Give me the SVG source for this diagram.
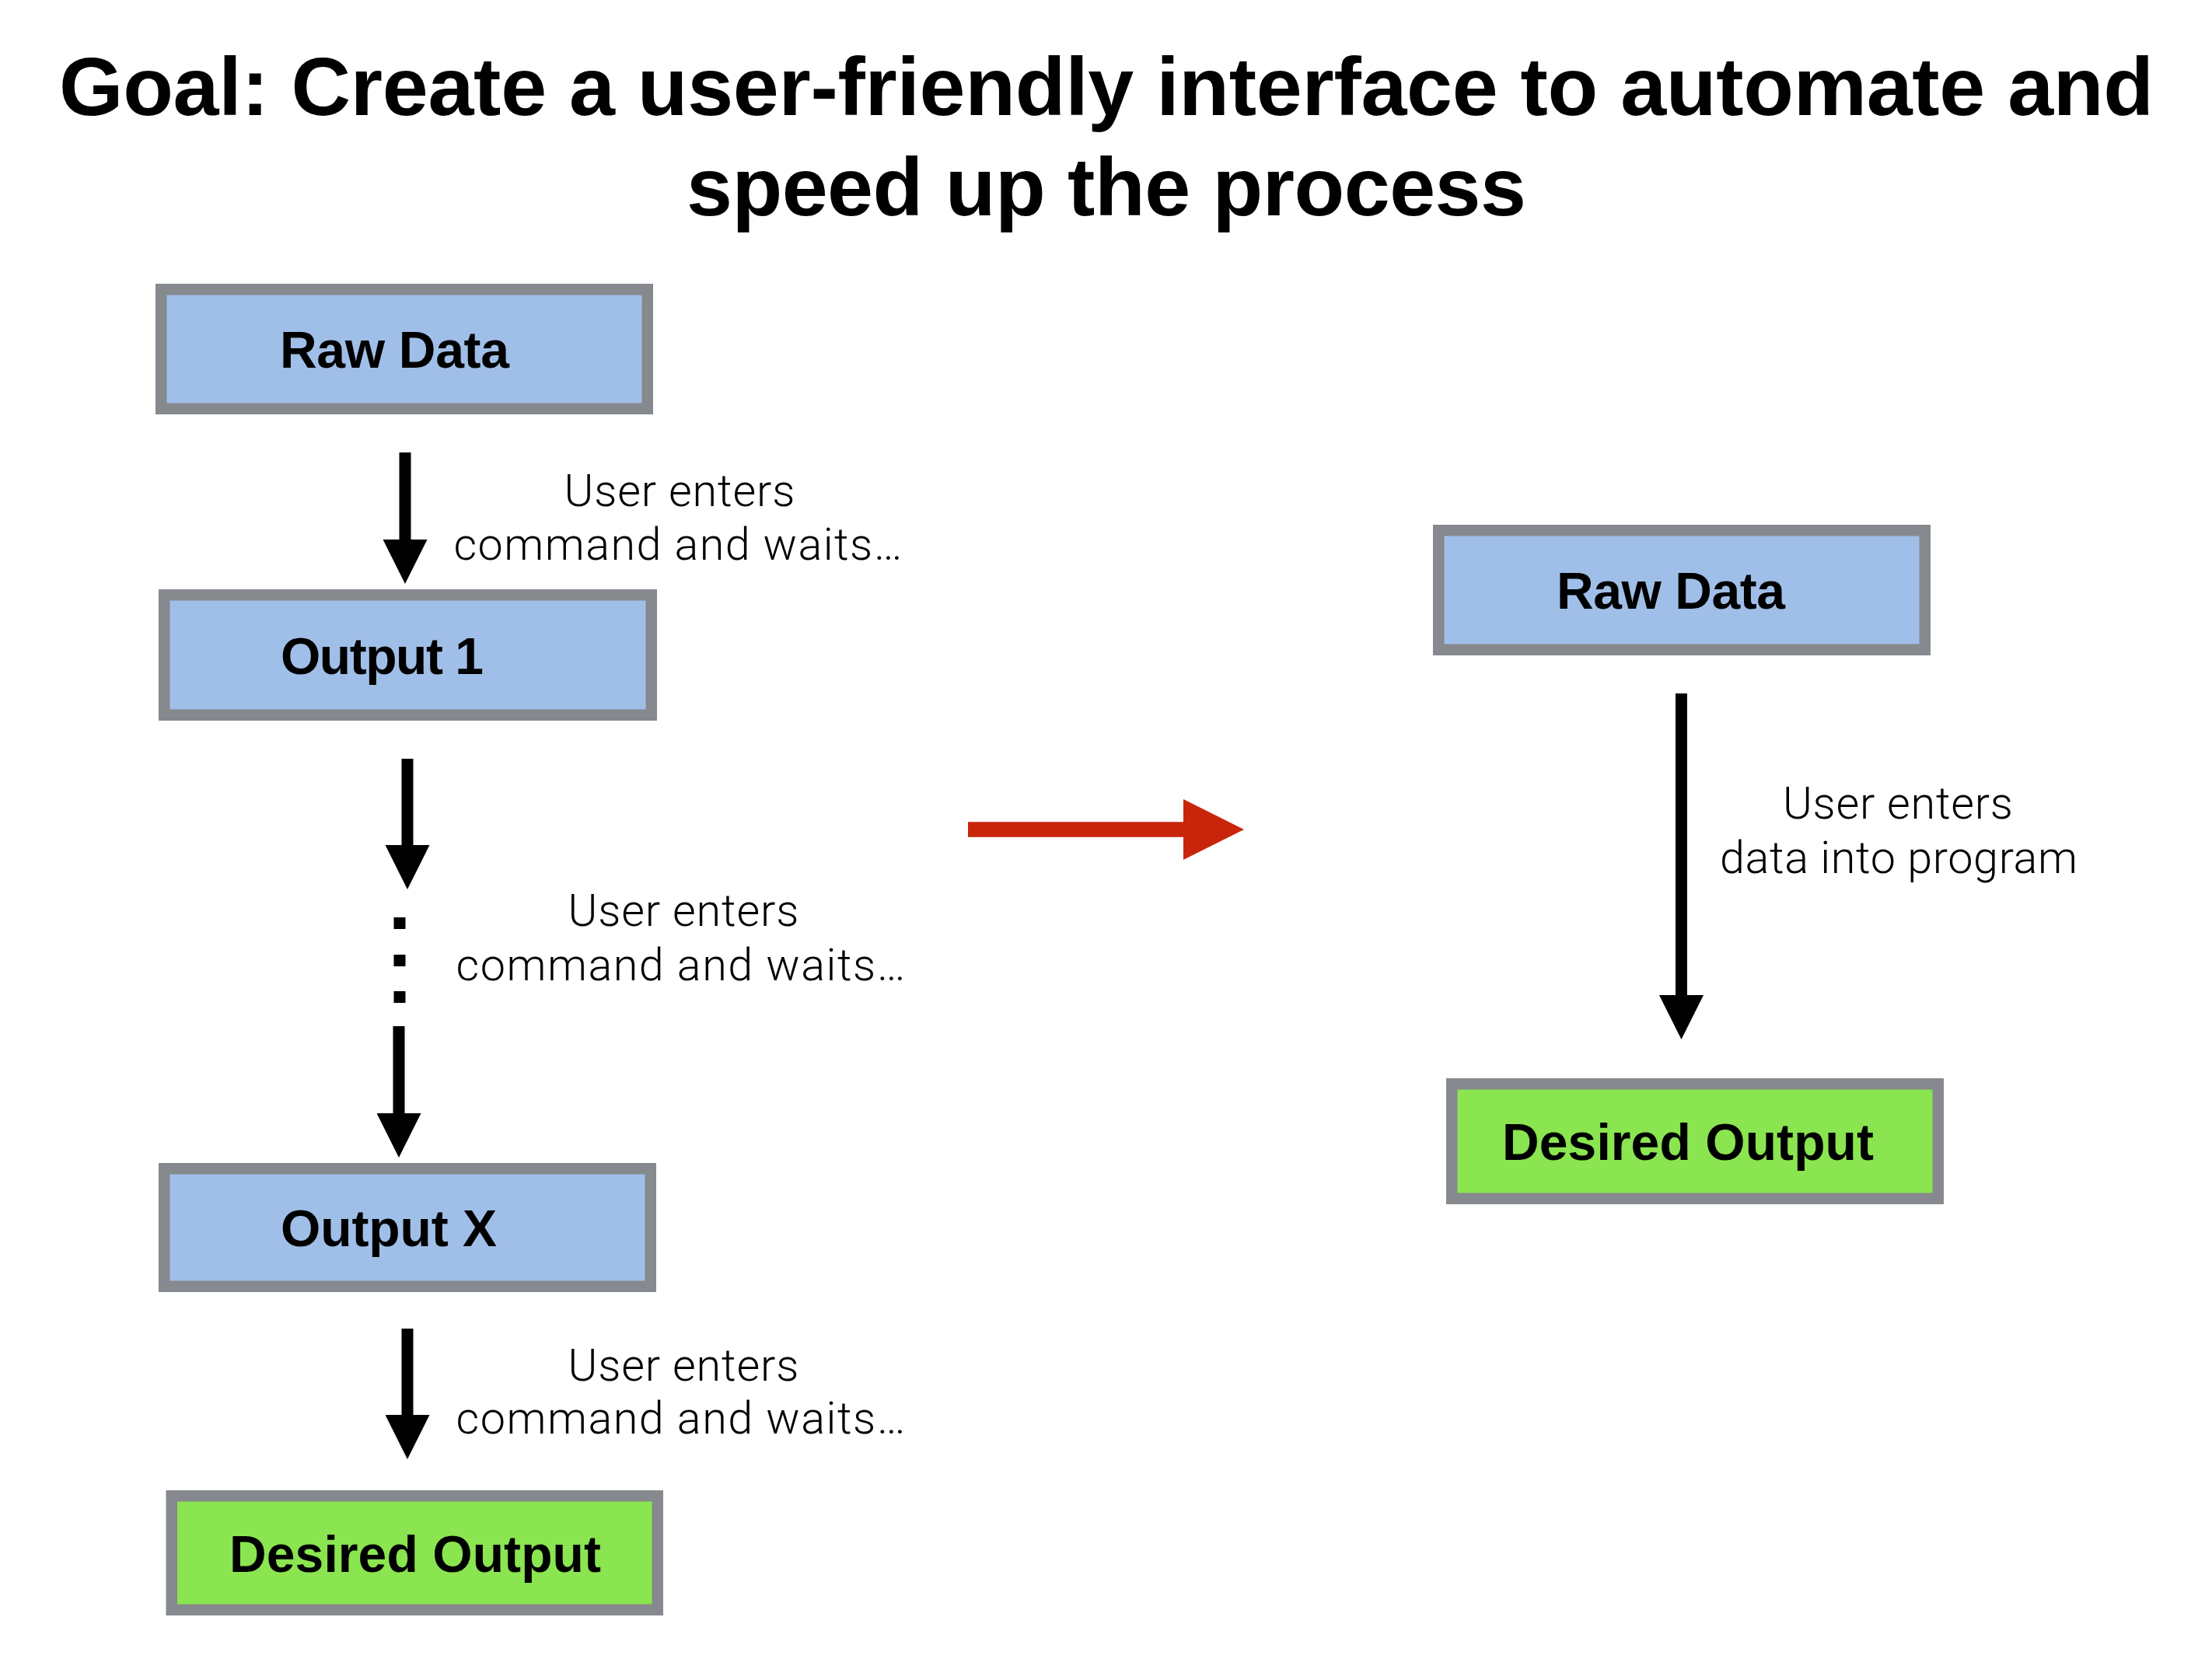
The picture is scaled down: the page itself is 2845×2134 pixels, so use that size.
<svg xmlns="http://www.w3.org/2000/svg" width="2845" height="2134" viewBox="0 0 2845 2134">
<style>
.title{font-family:"Liberation Sans",Arial,sans-serif;font-weight:bold;font-size:106px;fill:#000;text-anchor:middle}
.box{stroke:#86898D;stroke-width:14.5}
.blue{fill:#A0BFE8}
.green{fill:#8AE550}
.lbl{font-family:"Liberation Sans",Arial,sans-serif;font-weight:bold;font-size:66px;fill:#000;text-anchor:middle}
.note{font-family:Roboto,"Liberation Sans",sans-serif;font-weight:300;font-size:57.5px;fill:#000;text-anchor:middle}
.conn{stroke:#000;stroke-width:15;fill:none}
.red{stroke:#C8250A;stroke-width:19.5;fill:none}
</style>
<defs>
<marker id="head" markerUnits="userSpaceOnUse" markerWidth="57" markerHeight="57" viewBox="0 0 57 57" refX="2" refY="28.5" orient="auto">
<path d="M0,0 L57,28.5 L0,57 Z" fill="#000"/>
</marker>
<marker id="redhead" markerUnits="userSpaceOnUse" markerWidth="78" markerHeight="78" viewBox="0 0 78 78" refX="2" refY="39" orient="auto">
<path d="M0,0 L78,39 L0,78 Z" fill="#C8250A"/>
</marker>
</defs>

<g id="title">
<text class="title" x="1423" y="148" textLength="2694" lengthAdjust="spacing">Goal: Create a user-friendly interface to automate and</text>
<text class="title" x="1423" y="277" textLength="1080" lengthAdjust="spacing">speed up the process</text>
</g>

<g id="connectors">
<line class="conn" x1="521" y1="582" x2="521" y2="696" marker-end="url(#head)"/>
<line class="conn" x1="524" y1="976" x2="524" y2="1089" marker-end="url(#head)"/>
<g id="ellipsis-dots" fill="#000">
<rect x="506.5" y="1180" width="15" height="15"/>
<rect x="506.5" y="1228" width="15" height="15"/>
<rect x="506.5" y="1275" width="15" height="15"/>
</g>
<line class="conn" x1="513" y1="1320" x2="513" y2="1434" marker-end="url(#head)"/>
<line class="conn" x1="524" y1="1709" x2="524" y2="1822" marker-end="url(#head)"/>
<line class="conn" x1="2162.5" y1="892" x2="2162.5" y2="1282" marker-end="url(#head)"/>
<line class="red" x1="1245" y1="1067" x2="1524" y2="1067" marker-end="url(#redhead)"/>
</g>

<g id="labels">
<text class="note" x="874" y="651" textLength="297" lengthAdjust="spacing">User enters</text>
<text class="note" x="872" y="720" textLength="577" lengthAdjust="spacing">command and waits…</text>
<text class="note" x="879" y="1191" textLength="297" lengthAdjust="spacing">User enters</text>
<text class="note" x="875.5" y="1261" textLength="578" lengthAdjust="spacing">command and waits…</text>
<text class="note" x="879" y="1776" textLength="297" lengthAdjust="spacing">User enters</text>
<text class="note" x="875.5" y="1844" textLength="578" lengthAdjust="spacing">command and waits…</text>
<text class="note" x="2441" y="1053" textLength="296" lengthAdjust="spacing">User enters</text>
<text class="note" x="2442" y="1123" textLength="460" lengthAdjust="spacing">data into program</text>
</g>

<g id="raw-data-left">
<rect class="box blue" x="207.25" y="372.25" width="625.5" height="153.5"/>
<text class="lbl" x="507.5" y="473" textLength="295" lengthAdjust="spacing">Raw Data</text>
</g>
<g id="output-1">
<rect class="box blue" x="211.25" y="765.25" width="626.5" height="154.5"/>
<text class="lbl" x="491.5" y="867" textLength="261" lengthAdjust="spacing">Output 1</text>
</g>
<g id="output-x">
<rect class="box blue" x="211.25" y="1503.25" width="625.5" height="151.5"/>
<text class="lbl" x="500" y="1603" textLength="278" lengthAdjust="spacing">Output X</text>
</g>
<g id="desired-output-left">
<rect class="box green" x="220.75" y="1924.25" width="625" height="146.5"/>
<text class="lbl" x="534" y="2022" textLength="478" lengthAdjust="spacing">Desired Output</text>
</g>
<g id="raw-data-right">
<rect class="box blue" x="1850.25" y="682.25" width="625.5" height="153.5"/>
<text class="lbl" x="2149" y="783" textLength="294" lengthAdjust="spacing">Raw Data</text>
</g>
<g id="desired-output-right">
<rect class="box green" x="1867.25" y="1394.25" width="625.5" height="147.5"/>
<text class="lbl" x="2171" y="1492" textLength="478" lengthAdjust="spacing">Desired Output</text>
</g>
</svg>
